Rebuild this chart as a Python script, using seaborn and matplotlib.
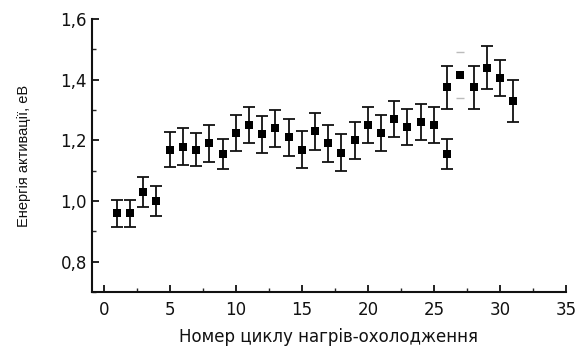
import seaborn as sns
import pandas as pd
import matplotlib
matplotlib.use('Agg')
import matplotlib.pyplot as plt
from matplotlib.ticker import MultipleLocator, FuncFormatter

# data
cycle = [1, 2, 3, 4, 5, 6, 7, 8, 9, 10, 11, 12, 13, 14, 15, 16, 17, 18, 19, 20,
         21, 22, 23, 24, 25, 26, 26, 28, 29, 30, 31]
energy = [0.96, 0.96, 1.03, 1.00, 1.17, 1.18, 1.17, 1.19, 1.155, 1.225,
          1.25, 1.22, 1.24, 1.21, 1.17, 1.23, 1.19, 1.16, 1.20, 1.25,
          1.225, 1.27, 1.245, 1.26, 1.25, 1.155, 1.375, 1.375, 1.44, 1.405, 1.33]
err = [0.045, 0.045, 0.05, 0.05, 0.058, 0.06, 0.055, 0.06, 0.05, 0.06,
       0.06, 0.06, 0.06, 0.06, 0.06, 0.06, 0.06, 0.06, 0.06, 0.06,
       0.06, 0.06, 0.06, 0.06, 0.06, 0.05, 0.07, 0.07, 0.07, 0.06, 0.07]
# point 27 has only faint caps in the original
faint_cycle = [27]
faint_energy = [1.415]
faint_err = [0.075]

df = pd.DataFrame({'cycle': cycle, 'energy': energy, 'err': err})

sns.set_theme(style="ticks")
plt.rcParams['font.family'] = ['Liberation Sans', 'DejaVu Sans']

fig = plt.figure(figsize=(5.77, 3.47), dpi=100)
ax = fig.add_axes([0.159, 0.158, 0.822, 0.787])

ax.errorbar(df['cycle'], df['energy'], yerr=df['err'], fmt='none',
            ecolor='#111111', elinewidth=1.3, capsize=4, capthick=1.3, zorder=2)
ax.errorbar(faint_cycle, faint_energy, yerr=faint_err, fmt='none',
            ecolor='#bbbbbb', elinewidth=0, capsize=3, capthick=1.0, zorder=2)
sns.scatterplot(data=df, x='cycle', y='energy', marker='s', s=34,
                color='black', edgecolor='black', linewidth=0, ax=ax, zorder=3)
sns.scatterplot(x=faint_cycle, y=faint_energy, marker='s', s=34,
                color='black', edgecolor='black', linewidth=0, ax=ax, zorder=3)

ax.set_xlim(-0.9, 35)
ax.set_ylim(0.7, 1.6)
ax.xaxis.set_major_locator(MultipleLocator(5))
ax.xaxis.set_minor_locator(MultipleLocator(2.5))
ax.yaxis.set_major_locator(MultipleLocator(0.2))
ax.yaxis.set_minor_locator(MultipleLocator(0.1))
ax.yaxis.set_major_formatter(FuncFormatter(lambda v, p: f'{v:.1f}'.replace('.', ',')))
ax.tick_params(which='major', direction='in', length=5, width=1.3,
               labelsize=12, colors='#111111', labelfontfamily='DejaVu Sans')
ax.tick_params(axis='x', which='major', pad=6)
ax.tick_params(which='minor', direction='in', length=3, width=1.0)

for s in ['top', 'right']:
    ax.spines[s].set_visible(False)
for s in ['left', 'bottom']:
    ax.spines[s].set_linewidth(1.5)
    ax.spines[s].set_color('#111111')

ax.set_xlabel('Номер циклу нагрів-охолодження', fontsize=12,
              family='DejaVu Sans', color='#111111', labelpad=7)
ax.set_ylabel('Енергія активації, еВ', fontsize=10.5, color='#111111',
              labelpad=21)

fig.savefig('out.png', dpi=100)
